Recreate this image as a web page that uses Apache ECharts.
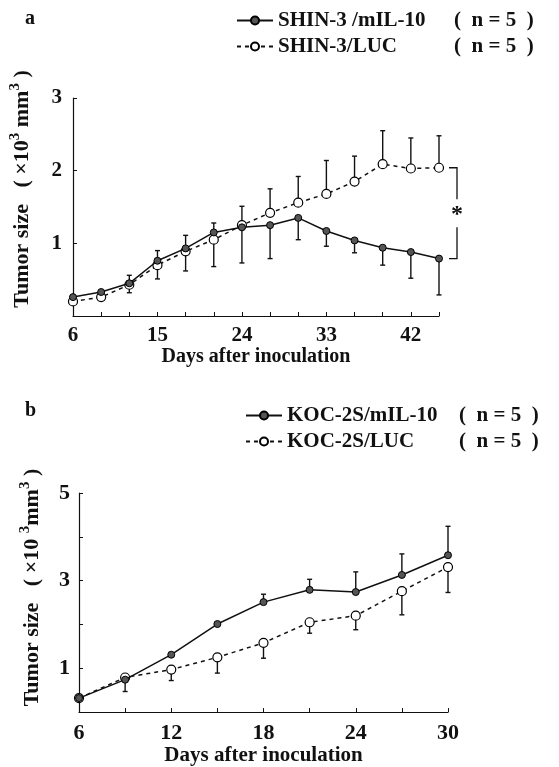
<!DOCTYPE html>
<html>
<head>
<meta charset="utf-8">
<script src="https://cdn.jsdelivr.net/npm/echarts@6.0.0/dist/echarts.min.js"></script>
<style>
html,body{margin:0;padding:0;background:#fff;}
#chart{width:559px;height:767px;}
</style>
</head>
<body>
<div id="chart"></div>
<script>
// ---------- data ----------
const daysA = [6, 9, 12, 15, 18, 21, 24, 27, 30, 33, 36, 39, 42, 45];
const shinIL = [0.26, 0.33, 0.45, 0.76, 0.93, 1.15, 1.22, 1.25, 1.35, 1.17, 1.04, 0.94, 0.88, 0.79];
const shinILLow = [0.26, 0.33, 0.32, 0.51, 0.62, 0.68, 0.73, 0.79, 1.05, 0.96, 0.87, 0.70, 0.52, 0.29];
const shinLUC = [0.20, 0.26, 0.43, 0.70, 0.89, 1.05, 1.25, 1.42, 1.56, 1.68, 1.85, 2.09, 2.03, 2.04];
const shinLUCHigh = [0.20, 0.26, 0.56, 0.90, 1.11, 1.28, 1.51, 1.75, 1.92, 2.14, 2.20, 2.55, 2.45, 2.48];

const daysB = [6, 9, 12, 15, 18, 21, 24, 27, 30];
const kocIL = [0.32, 0.74, 1.31, 2.01, 2.51, 2.79, 2.74, 3.13, 3.58];
const kocILHigh = [0.32, 0.74, 1.31, 2.01, 2.69, 3.03, 3.20, 3.61, 4.24];
const kocLUC = [0.32, 0.79, 0.97, 1.25, 1.58, 2.05, 2.20, 2.76, 3.31];
const kocLUCLow = [0.32, 0.47, 0.72, 0.89, 1.23, 1.80, 1.88, 2.22, 2.73];

const xTicksA = [6, 15, 24, 33, 42];
const yTicksA = [1, 2, 3];
const xTicksB = [6, 12, 18, 24, 30];
const yTicksB = [1, 3, 5];

const nameA1 = 'SHIN-3 /mIL-10', nameA2 = 'SHIN-3/LUC';
const nameB1 = 'KOC-2S/mIL-10', nameB2 = 'KOC-2S/LUC';
const nLabel = '(  n = 5  )';

// ---------- helpers ----------
const SERIF = '"Liberation Serif", "DejaVu Serif", serif';
const zip = (xs, ys) => xs.map((x, i) => [x, ys[i]]);
const zip3 = (xs, a, b) => xs.map((x, i) => [x, a[i], b[i]]);

function errRender(params, api) {
  const x = api.value(0), from = api.value(1), to = api.value(2);
  if (Math.abs(to - from) < 1e-6) return null;
  const p1 = api.coord([x, from]), p2 = api.coord([x, to]);
  const w = 2.5;
  const st = { stroke: '#111', lineWidth: 1.4 };
  return { type: 'group', children: [
    { type: 'line', shape: { x1: p1[0], y1: p1[1], x2: p2[0], y2: p2[1] }, style: st },
    { type: 'line', shape: { x1: p2[0] - w, y1: p2[1], x2: p2[0] + w, y2: p2[1] }, style: st }
  ]};
}

function bracketRender(params, api) {
  const x = api.value(0);
  const pTop = api.coord([x, api.value(1)]);
  const pBot = api.coord([x, api.value(2)]);
  const x1 = pTop[0] + 10, x2 = pTop[0] + 18;
  const mid = (pTop[1] + pBot[1]) / 2;
  const gap = 14;
  const st = { stroke: '#111', lineWidth: 1.3, fill: null };
  return { type: 'group', children: [
    { type: 'polyline', shape: { points: [[x1, pTop[1]], [x2, pTop[1]], [x2, mid - gap]] }, style: st },
    { type: 'polyline', shape: { points: [[x2, mid + gap], [x2, pBot[1]], [x1, pBot[1]]] }, style: st },
    { type: 'text', x: x2, y: mid + 2, style: { text: '*', fontSize: 24, fontWeight: 'bold', fontFamily: SERIF, fill: '#111', align: 'center', verticalAlign: 'middle' } }
  ]};
}

const filledStyle = { color: '#555', borderColor: '#000', borderWidth: 1 };
const openStyle = { color: '#fff', borderColor: '#000', borderWidth: 1.2 };

function lineSeries(name, xs, ys, idx, dashed) {
  return {
    type: 'line', name: name, data: zip(xs, ys), xAxisIndex: idx, yAxisIndex: idx,
    symbol: 'circle', symbolSize: dashed ? 9 : 7,
    itemStyle: dashed ? openStyle : filledStyle,
    lineStyle: { color: '#111', width: 1.5, type: dashed ? [4, 4] : 'solid' },
    z: dashed ? 3 : 4, animation: false
  };
}
function errSeries(xs, from, to, idx) {
  return {
    type: 'custom', data: zip3(xs, from, to), xAxisIndex: idx, yAxisIndex: idx,
    renderItem: errRender, encode: { x: 0, y: [1, 2] }, z: 2, animation: false, silent: true
  };
}

const axisLineStyle = { lineStyle: { color: '#111', width: 1.2 } };
const tickStyle = { inside: true, length: 4, lineStyle: { color: '#111', width: 1 } };
const labelFont = { fontFamily: SERIF, fontWeight: 'bold', color: '#111' };

function xAxis(idx, min, max, ticks, size, margin, gap, nameSize) {
  return {
    type: 'value', gridIndex: idx, min: min, max: max, interval: 3,
    axisLine: axisLineStyle, axisTick: tickStyle, splitLine: { show: false },
    axisLabel: Object.assign({ fontSize: size, margin: margin, formatter: v => ticks.includes(v) ? String(v) : '' }, labelFont),
    name: 'Days after inoculation', nameLocation: 'middle', nameGap: gap,
    nameTextStyle: Object.assign({ fontSize: nameSize }, labelFont)
  };
}
function yAxis(idx, max, ticks, size, margin, gap, label, nameSize, shift) {
  return {
    type: 'value', gridIndex: idx, min: 0, max: max, interval: 1,
    axisLine: Object.assign({ show: true }, axisLineStyle), axisTick: Object.assign({ show: true }, tickStyle), splitLine: { show: false },
    axisLabel: Object.assign({ fontSize: size, margin: margin, formatter: v => ticks.includes(v) ? String(v) : '' }, labelFont),
    name: label, nameLocation: 'middle', nameRotate: 90, nameGap: gap,
    nameTextStyle: Object.assign({
      fontSize: nameSize, padding: [0, 0, 0, shift],
      rich: {
        a: Object.assign({ fontSize: nameSize }, labelFont),
        s: Object.assign({ fontSize: Math.round(nameSize * 0.68), padding: [0, 0, 13, 0] }, labelFont)
      }
    }, labelFont)
  };
}

function legend(names, left, top, wN) {
  const f = { fontFamily: SERIF, fontWeight: 'bold', fontSize: 21, color: '#111', lineHeight: 21 };
  return {
    data: names, orient: 'vertical', left: left, top: top, itemGap: 5,
    itemWidth: 36, itemHeight: 10, selectedMode: false,
    formatter: n => '{n|' + n + '}{p|' + nLabel + '}',
    textStyle: Object.assign({
      rich: { n: Object.assign({ width: wN }, f), p: Object.assign({}, f) }
    }, f)
  };
}

const chart = echarts.init(document.getElementById('chart'), null, { renderer: 'canvas' });
chart.setOption({
  backgroundColor: '#fff',
  animation: false,
  title: [
    { text: 'a', left: 20, top: 4, textStyle: { fontFamily: SERIF, fontWeight: 'bold', fontSize: 20, color: '#111' } },
    { text: 'b', left: 20, top: 396, textStyle: { fontFamily: SERIF, fontWeight: 'bold', fontSize: 20, color: '#111' } }
  ],
  legend: [
    legend([nameA1, nameA2], 231, 5, 176),
    legend([nameB1, nameB2], 240, 400, 172)
  ],
  grid: [
    { left: 72, right: 120, top: 98, bottom: 451 },
    { left: 79, right: 111, top: 493, bottom: 54 }
  ],
  xAxis: [
    xAxis(0, 6, 45, xTicksA, 21, 9, 30, 20),
    xAxis(1, 6, 30, xTicksB, 22, 10, 31, 21)
  ],
  yAxis: [
    yAxis(0, 3, yTicksA, 21, 11, 37, '{a|Tumor size   ( ×10}{s|3}{a| mm}{s|3}{a| )}', 22, 36),
    yAxis(1, 5, yTicksB, 22, 9, 33, '{a|Tumor size   ( ×10 }{s|3}{a|mm}{s|3}{a| )}', 22, 30)
  ],
  series: [
    errSeries(daysA, shinIL, shinILLow, 0),
    errSeries(daysA, shinLUC, shinLUCHigh, 0),
    lineSeries(nameA2, daysA, shinLUC, 0, true),
    lineSeries(nameA1, daysA, shinIL, 0, false),
    {
      type: 'custom', xAxisIndex: 0, yAxisIndex: 0, clip: false, silent: true,
      data: [[daysA[daysA.length - 1], shinLUC[shinLUC.length - 1], shinIL[shinIL.length - 1]]],
      renderItem: bracketRender, encode: { x: 0, y: [1, 2] }, z: 5
    },
    errSeries(daysB, kocIL, kocILHigh, 1),
    errSeries(daysB, kocLUC, kocLUCLow, 1),
    lineSeries(nameB2, daysB, kocLUC, 1, true),
    lineSeries(nameB1, daysB, kocIL, 1, false)
  ]
});
</script>
</body>
</html>
